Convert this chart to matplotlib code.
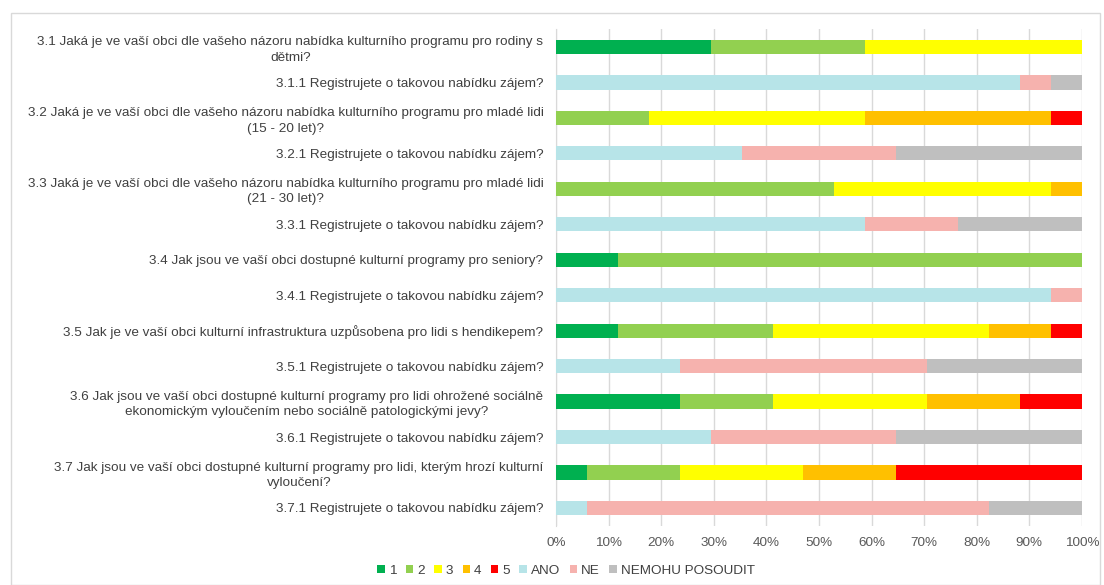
import matplotlib.pyplot as plt
import numpy as np
from matplotlib.patches import Rectangle

plt.rcParams['font.family'] = ['Liberation Sans', 'DejaVu Sans']

# questions, top to bottom
questions = [
    "3.1 Jaká je ve vaší obci dle vašeho názoru nabídka kulturního programu pro rodiny s\ndětmi?",
    "3.1.1 Registrujete o takovou nabídku zájem?",
    "3.2 Jaká je ve vaší obci dle vašeho názoru nabídka kulturního programu pro mladé lidi\n(15 - 20 let)?",
    "3.2.1 Registrujete o takovou nabídku zájem?",
    "3.3 Jaká je ve vaší obci dle vašeho názoru nabídka kulturního programu pro mladé lidi\n(21 - 30 let)?",
    "3.3.1 Registrujete o takovou nabídku zájem?",
    "3.4 Jak jsou ve vaší obci dostupné kulturní programy pro seniory?",
    "3.4.1 Registrujete o takovou nabídku zájem?",
    "3.5 Jak je ve vaší obci kulturní infrastruktura uzpůsobena pro lidi s hendikepem?",
    "3.5.1 Registrujete o takovou nabídku zájem?",
    "3.6 Jak jsou ve vaší obci dostupné kulturní programy pro lidi ohrožené sociálně\nekonomickým vyloučením nebo sociálně patologickými jevy?",
    "3.6.1 Registrujete o takovou nabídku zájem?",
    "3.7 Jak jsou ve vaší obci dostupné kulturní programy pro lidi, kterým hrozí kulturní\nvyloučení?",
    "3.7.1 Registrujete o takovou nabídku zájem?",
]

# answer counts per question (17 respondents)
s1 = [5, 0, 0, 0, 0, 0, 2, 0, 2, 0, 4, 0, 1, 0]
s2 = [5, 0, 3, 0, 9, 0, 15, 0, 5, 0, 3, 0, 3, 0]
s3 = [7, 0, 7, 0, 7, 0, 0, 0, 7, 0, 5, 0, 4, 0]
s4 = [0, 0, 6, 0, 1, 0, 0, 0, 2, 0, 3, 0, 3, 0]
s5 = [0, 0, 1, 0, 0, 0, 0, 0, 1, 0, 2, 0, 6, 0]
ano = [0, 15, 0, 6, 0, 10, 0, 16, 0, 4, 0, 5, 0, 1]
ne = [0, 1, 0, 5, 0, 3, 0, 1, 0, 8, 0, 6, 0, 13]
nemohu = [0, 1, 0, 6, 0, 4, 0, 0, 0, 5, 0, 6, 0, 3]

series_names = ["1", "2", "3", "4", "5", "ANO", "NE", "NEMOHU POSOUDIT"]
series = [s1, s2, s3, s4, s5, ano, ne, nemohu]
colors = ["#00B050", "#92D050", "#FFFF00", "#FFC000", "#FF0000",
          "#B7E4E8", "#F6B2AE", "#BFBFBF"]

data = np.array(series, dtype=float)
pct = data / data.sum(axis=0) * 100

fig = plt.figure(figsize=(11.04, 5.85), dpi=100)
fig.patches.append(Rectangle((11 / 1104, 0.0), 1089 / 1104, 1 - 13 / 585,
                             transform=fig.transFigure, fill=False,
                             edgecolor="#D9D9D9", linewidth=1))
ax = fig.add_axes([0.5036, 0.1014, 0.4764, 0.8486])

y = np.arange(len(questions))
left = np.zeros(len(questions))
for name, vals, c in zip(series_names, pct, colors):
    ax.barh(y, vals, left=left, height=0.4, color=c, label=name, zorder=3)
    left += vals

ax.set_xlim(0, 100)
ax.set_ylim(len(questions) - 0.5, -0.5)
ax.set_xticks(np.arange(0, 101, 10))
ax.set_xticklabels([f"{v}%" for v in range(0, 101, 10)])
ax.set_yticks(y)
ax.set_yticklabels(questions, multialignment="center", linespacing=1.35)
ax.xaxis.grid(True, color="#D9D9D9", linewidth=1, zorder=0)
for s in ["top", "right", "bottom"]:
    ax.spines[s].set_visible(False)
ax.spines["left"].set_color("#D9D9D9")
ax.tick_params(axis="both", length=0, labelsize=9.7, colors="#404040")
ax.tick_params(axis="x", pad=8, colors="#595959")
ax.tick_params(axis="y", pad=9)

ax.legend(loc="center", bbox_to_anchor=(566 / 1104, 1 - 571 / 585),
          bbox_transform=fig.transFigure, ncol=8, frameon=False,
          fontsize=9.7, handlelength=0.55, handleheight=0.55,
          handletextpad=0.3, columnspacing=0.7, labelcolor="#404040")

fig.savefig("out.png", dpi=100)
